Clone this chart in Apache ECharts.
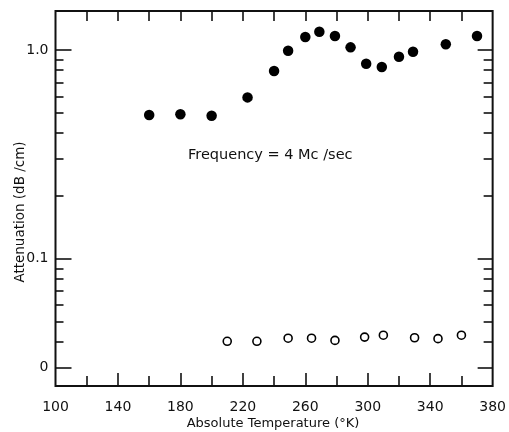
<!DOCTYPE html>
<html>
<head>
<meta charset="utf-8">
<script src="https://cdn.jsdelivr.net/npm/echarts@6/dist/echarts.min.js"></script>
<style>
html, body { margin: 0; padding: 0; background: #fff; }
#chart { width: 509px; height: 432px; }
</style>
</head>
<body>
<div id="chart"></div>
<script>
// values: temperature (°K) and attenuation (dB/cm)
var tempFilled = [160, 180, 200, 223, 240, 249, 260, 269, 279, 289, 299, 309, 320, 329, 350, 370];
var attenFilled = [0.488, 0.492, 0.484, 0.593, 0.793, 0.992, 1.154, 1.224, 1.167, 1.030, 0.860, 0.829, 0.929, 0.981, 1.065, 1.167];
var tempOpen = [210, 229, 249, 264, 279, 298, 310, 330, 345, 360];
var attenOpen = [0.0402, 0.0402, 0.0416, 0.0416, 0.0406, 0.0421, 0.0430, 0.0418, 0.0414, 0.0430];

// axis ticks
var xLabels = [100, 140, 180, 220, 260, 300, 340, 380];
var xMajorTicks = [140, 180, 220, 260, 300, 340];
var xMinorTicks = [120, 160, 200, 240, 280, 320, 360];
var xTopTicks = [120, 140, 160, 180, 200, 220, 240, 260, 280, 300, 320, 340, 360];
var yMajor = [0.03, 0.1, 1.0];
var yMajorLabels = ['0', '0.1', '1.0'];
var yMinor = [0.04, 0.05, 0.06, 0.07, 0.08, 0.09, 0.2, 0.3, 0.4, 0.5, 0.6, 0.7, 0.8, 0.9];

var FONT = 'DejaVu Sans';
var lg = function (v) { return Math.log10(v); };
var yMin = -1.61, yMax = 0.187;

function pairs(xs, ys) {
  return xs.map(function (x, i) { return [x, lg(ys[i])]; });
}

function xAx(pos, ticks, len, labels) {
  return {
    type: 'value', position: pos, min: 100, max: 380,
    axisLine: { show: false, onZero: false },
    splitLine: { show: false },
    axisTick: { show: true, inside: true, length: len, customValues: ticks,
      lineStyle: { color: '#111', width: 1.6 } },
    axisLabel: labels ? { show: true, customValues: labels, margin: 14,
      fontFamily: FONT, fontSize: 14, color: '#111' } : { show: false }
  };
}

function yAx(pos, ticks, len, withLabels) {
  return {
    type: 'value', position: pos, min: yMin, max: yMax,
    axisLine: { show: false, onZero: false },
    splitLine: { show: false },
    axisTick: { show: true, inside: true, length: len, customValues: ticks.map(lg),
      lineStyle: { color: '#111', width: 1.6 } },
    axisLabel: withLabels ? {
      show: true, customValues: yMajor.map(lg), margin: 7,
      fontFamily: FONT, fontSize: 14, color: '#111',
      formatter: function (v) {
        for (var i = 0; i < yMajor.length; i++) {
          if (Math.abs(lg(yMajor[i]) - v) < 1e-6) return yMajorLabels[i];
        }
        return '';
      }
    } : { show: false }
  };
}

var chart = echarts.init(document.getElementById('chart'));
chart.setOption({
  animation: false,
  backgroundColor: '#fff',
  grid: { left: 55.5, right: 13.5, top: 11, bottom: 46, show: true,
    borderColor: '#111', borderWidth: 2, backgroundColor: 'transparent' },
  xAxis: [
    xAx('bottom', xMajorTicks, 13, xLabels),
    xAx('bottom', xMinorTicks, 10, null),
    xAx('top', xTopTicks, 10, null)
  ],
  yAxis: [
    yAx('left', yMajor, 16, true),
    yAx('left', yMinor, 8, false),
    yAx('right', yMajor, 15, false),
    yAx('right', yMinor, 9, false)
  ],
  graphic: [
    { type: 'text', left: 188, top: 148,
      style: { text: 'Frequency = 4 Mc /sec', font: '14.5px "DejaVu Sans"', fill: '#111' } },
    { type: 'text', x: 20, y: 212, rotation: Math.PI / 2,
      style: { text: 'Attenuation (dB /cm)', font: '13.5px "DejaVu Sans"', fill: '#111',
        align: 'center', verticalAlign: 'middle' } },
    { type: 'text', x: 273, y: 424,
      style: { text: 'Absolute Temperature (°K)', font: '13px "DejaVu Sans"', fill: '#111',
        align: 'center', verticalAlign: 'middle' } }
  ],
  series: [
    { type: 'scatter', xAxisIndex: 0, yAxisIndex: 0, symbol: 'circle', symbolSize: 10.5,
      itemStyle: { color: '#000', opacity: 1 }, data: pairs(tempFilled, attenFilled) },
    { type: 'scatter', xAxisIndex: 0, yAxisIndex: 0, symbol: 'circle', symbolSize: 8,
      itemStyle: { color: '#fff', borderColor: '#000', borderWidth: 1.6, opacity: 1 },
      data: pairs(tempOpen, attenOpen) }
  ]
});
</script>
</body>
</html>
